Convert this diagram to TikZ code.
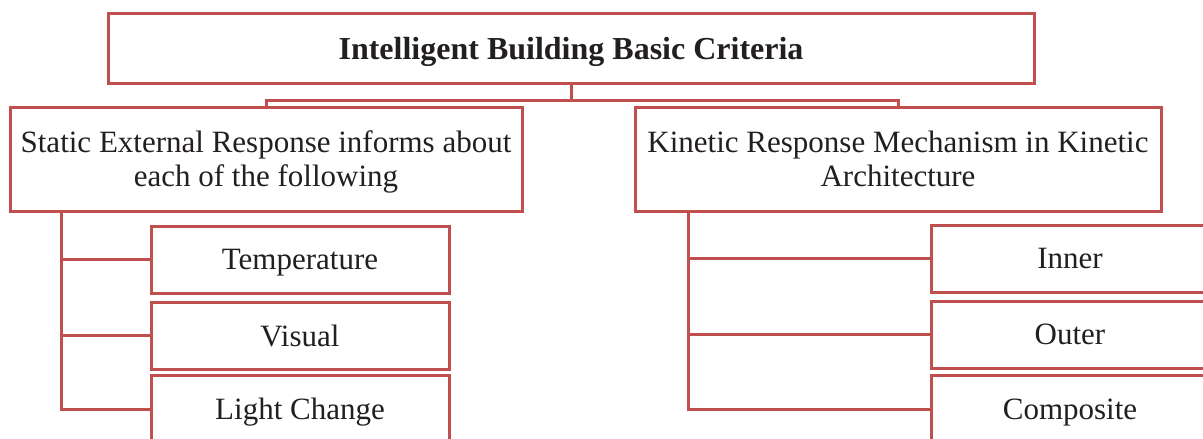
\documentclass[tikz,border=0pt]{standalone}
\usepackage{fontspec}
\setmainfont{Liberation Serif}
\definecolor{boxred}{RGB}{192,80,77}
\definecolor{inktext}{RGB}{35,31,32}
\begin{document}
\begin{tikzpicture}[x=1pt,y=-1pt,
  box/.style={draw=boxred, line width=3pt, fill=white, text=inktext,
    inner sep=0pt, align=center, text depth=0pt,
    font=\fontsize{31}{34}\selectfont},
  link/.style={draw=boxred, line width=3pt}]
\useasboundingbox (0,0) rectangle (1203,439);
\clip (0,0) rectangle (1203,439);

% top level
\node[box, minimum width=926pt, minimum height=70pt, font=\bfseries\fontsize{32}{34}\selectfont]
  (root) at (571,48) {Intelligent Building Basic Criteria};

% second level
\node[box, minimum width=512pt, minimum height=104pt] (static) at (266,159)
  {Static External Response informs about\\each of the following};
\node[box, minimum width=526pt, minimum height=104pt] (kinetic) at (898,159)
  {Kinetic Response Mechanism in Kinetic\\Architecture};

% bus from the root to both branches
\coordinate (busL) at (266,100);
\coordinate (busR) at (898,100);
\coordinate (busM) at (root.south |- busL);

% leaves of the static branch
\node[box, minimum width=298pt, minimum height=67pt] (temp)  at (300,259.5) {Temperature};
\node[box, minimum width=298pt, minimum height=67pt] (vis)   at (300,335.5) {Visual};
\node[box, minimum width=298pt, minimum height=68pt] (light) at (300,409)   {Light Change};

% leaves of the kinetic branch
\node[box, minimum width=278pt, minimum height=67pt] (inner) at (1070,258.5) {Inner};
\node[box, minimum width=278pt, minimum height=67pt] (outer) at (1070,334.5) {Outer};
\node[box, minimum width=278pt, minimum height=68pt] (comp)  at (1070,409)   {Composite};

% connectors
\draw[link] (root.south) -- (busM);
\draw[link] (static.north) -- (busL) -- (busR) -- (kinetic.north);

\coordinate (sTop) at (61,0 |- static.south);
\coordinate (kTop) at (688,0 |- kinetic.south);
\draw[link] (sTop) -- (sTop |- light.west) -- (light.west);
\draw[link] (sTop |- temp.west) -- (temp.west);
\draw[link] (sTop |- vis.west) -- (vis.west);
\draw[link] (kTop) -- (kTop |- comp.west) -- (comp.west);
\draw[link] (kTop |- inner.west) -- (inner.west);
\draw[link] (kTop |- outer.west) -- (outer.west);
\end{tikzpicture}
\end{document}
